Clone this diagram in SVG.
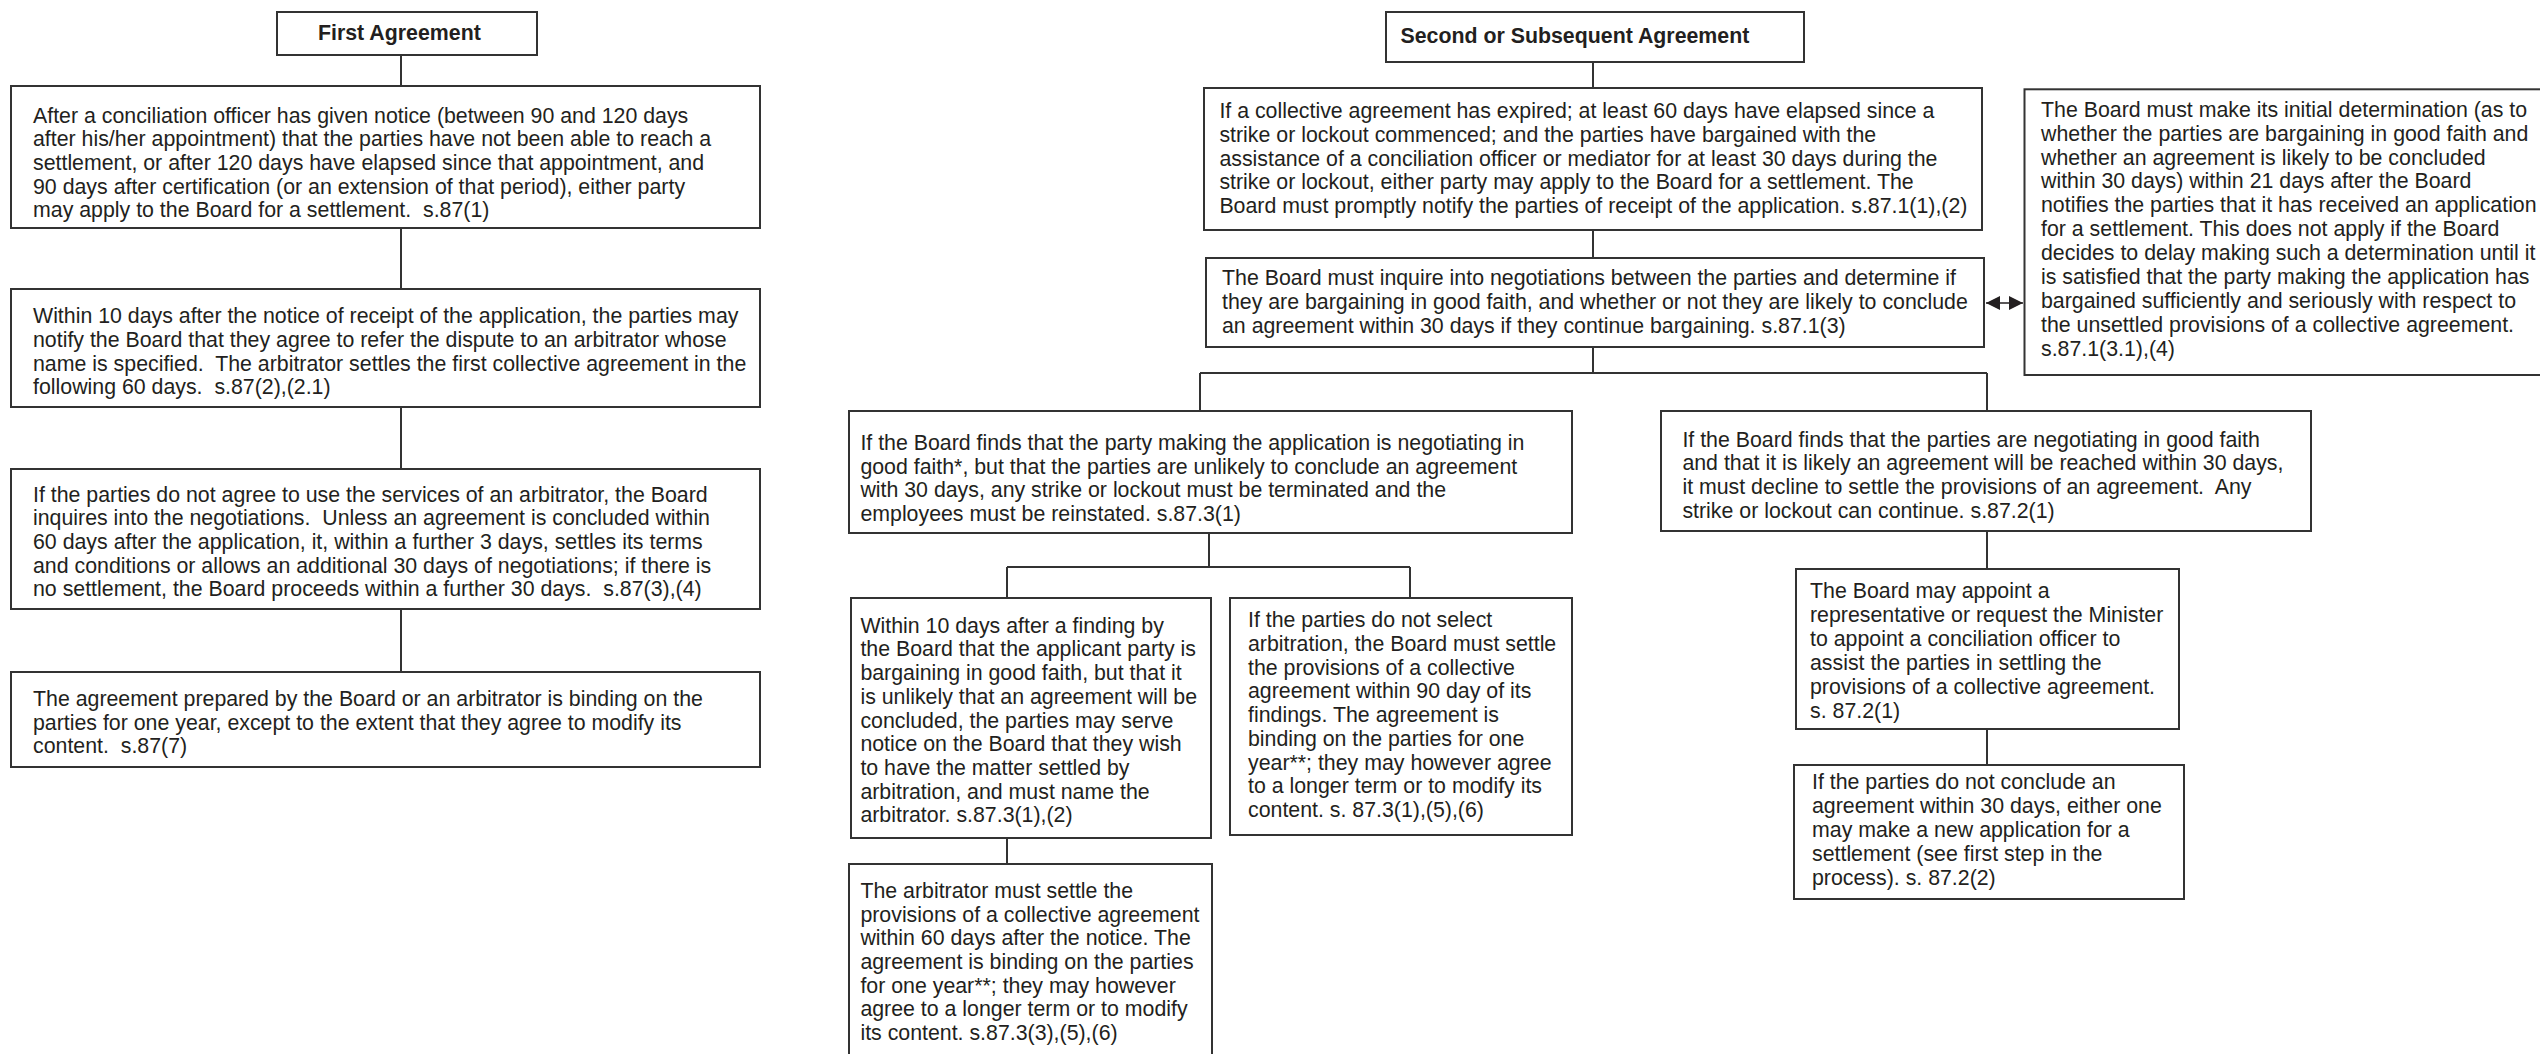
<svg xmlns="http://www.w3.org/2000/svg" width="2540" height="1054" viewBox="0 0 2540 1054">
<defs>
<style>
.box{fill:#fff;stroke:#333;stroke-width:2}
.ln{fill:none;stroke:#333;stroke-width:2}
.arr{fill:none;stroke:#231f20;stroke-width:1.5}
text{font-family:"Liberation Sans",Arial,sans-serif;font-size:21.33px;fill:#231f20;white-space:pre}
.b{font-weight:bold}
</style>
<marker id="ah" viewBox="0 0 10 10" refX="10" refY="5" markerWidth="15" markerHeight="14" markerUnits="userSpaceOnUse" orient="auto-start-reverse">
<path d="M0,0 L10,5 L0,10 z" fill="#231f20"/>
</marker>
</defs>
<rect width="2540" height="1054" fill="#fff"/>

<g id="connectors">
<path class="ln" d="M401,55 V86 M401,228 V289 M401,407 V469 M401,609 V672"/>
<path class="ln" d="M1593,62 V88 M1593,230 V258 M1593,347 V373 M1200,373 H1987 M1200,373 V411 M1987,373 V411"/>
<path class="ln" d="M1209,533 V567 M1007,567 H1410 M1007,567 V598 M1410,567 V598 M1007,838 V864"/>
<path class="ln" d="M1987,531 V569 M1987,729 V765"/>
<path class="arr" d="M1986,303 H2023" marker-start="url(#ah)" marker-end="url(#ah)"/>
</g>

<g id="first-agreement">
<rect class="box" x="277" y="12" width="260" height="43"/>
<text class="b" x="318" y="40">First Agreement</text>
</g>

<g id="a1">
<rect class="box" x="11" y="86" width="749" height="142"/>
<text><tspan x="33" y="122.7">After a conciliation officer has given notice (between 90 and 120 days</tspan><tspan x="33" y="146.3">after his/her appointment) that the parties have not been able to reach a</tspan><tspan x="33" y="169.9">settlement, or after 120 days have elapsed since that appointment, and</tspan><tspan x="33" y="193.5">90 days after certification (or an extension of that period), either party</tspan><tspan x="33" y="217.1">may apply to the Board for a settlement.  s.87(1)</tspan></text>
</g>

<g id="a2">
<rect class="box" x="11" y="289" width="749" height="118"/>
<text><tspan x="33" y="323.3">Within 10 days after the notice of receipt of the application, the parties may</tspan><tspan x="33" y="346.9">notify the Board that they agree to refer the dispute to an arbitrator whose</tspan><tspan x="33" y="370.5">name is specified.  The arbitrator settles the first collective agreement in the</tspan><tspan x="33" y="394.1">following 60 days.  s.87(2),(2.1)</tspan></text>
</g>

<g id="a3">
<rect class="box" x="11" y="469" width="749" height="140"/>
<text><tspan x="33" y="501.7">If the parties do not agree to use the services of an arbitrator, the Board</tspan><tspan x="33" y="525.3">inquires into the negotiations.  Unless an agreement is concluded within</tspan><tspan x="33" y="548.9">60 days after the application, it, within a further 3 days, settles its terms</tspan><tspan x="33" y="572.5">and conditions or allows an additional 30 days of negotiations; if there is</tspan><tspan x="33" y="596.1">no settlement, the Board proceeds within a further 30 days.  s.87(3),(4)</tspan></text>
</g>

<g id="a4">
<rect class="box" x="11" y="672" width="749" height="95"/>
<text><tspan x="33" y="706">The agreement prepared by the Board or an arbitrator is binding on the</tspan><tspan x="33" y="729.6">parties for one year, except to the extent that they agree to modify its</tspan><tspan x="33" y="753.2">content.  s.87(7)</tspan></text>
</g>

<g id="second-agreement">
<rect class="box" x="1386" y="12" width="418" height="50"/>
<text class="b" x="1400.5" y="43">Second or Subsequent Agreement</text>
</g>

<g id="b1">
<rect class="box" x="1204" y="88" width="778" height="142"/>
<text><tspan x="1219.4" y="118.3">If a collective agreement has expired; at least 60 days have elapsed since a</tspan><tspan x="1219.4" y="142">strike or lockout commenced; and the parties have bargained with the</tspan><tspan x="1219.4" y="165.7">assistance of a conciliation officer or mediator for at least 30 days during the</tspan><tspan x="1219.4" y="189.4">strike or lockout, either party may apply to the Board for a settlement. The</tspan><tspan x="1219.4" y="213.1">Board must promptly notify the parties of receipt of the application. s.87.1(1),(2)</tspan></text>
</g>

<g id="b2">
<rect class="box" x="1206" y="258" width="778" height="89"/>
<text><tspan x="1222" y="285">The Board must inquire into negotiations between the parties and determine if</tspan><tspan x="1222" y="309">they are bargaining in good faith, and whether or not they are likely to conclude</tspan><tspan x="1222" y="333">an agreement within 30 days if they continue bargaining. s.87.1(3)</tspan></text>
</g>

<g id="side-note">
<rect class="box" x="2024.5" y="89.3" width="530" height="285.7"/>
<text><tspan x="2041" y="116.7">The Board must make its initial determination (as to</tspan><tspan x="2041" y="140.6">whether the parties are bargaining in good faith and</tspan><tspan x="2041" y="164.5">whether an agreement is likely to be concluded</tspan><tspan x="2041" y="188.4">within 30 days) within 21 days after the Board</tspan><tspan x="2041" y="212.3">notifies the parties that it has received an application</tspan><tspan x="2041" y="236.2">for a settlement. This does not apply if the Board</tspan><tspan x="2041" y="260.1">decides to delay making such a determination until it</tspan><tspan x="2041" y="284">is satisfied that the party making the application has</tspan><tspan x="2041" y="307.9">bargained sufficiently and seriously with respect to</tspan><tspan x="2041" y="331.8">the unsettled provisions of a collective agreement.</tspan><tspan x="2041" y="355.7">s.87.1(3.1),(4)</tspan></text>
</g>

<g id="c1">
<rect class="box" x="849" y="411" width="723" height="122"/>
<text><tspan x="860.4" y="450">If the Board finds that the party making the application is negotiating in</tspan><tspan x="860.4" y="473.6">good faith*, but that the parties are unlikely to conclude an agreement</tspan><tspan x="860.4" y="497.2">with 30 days, any strike or lockout must be terminated and the</tspan><tspan x="860.4" y="520.8">employees must be reinstated. s.87.3(1)</tspan></text>
</g>

<g id="c2">
<rect class="box" x="851" y="598" width="360" height="240"/>
<text><tspan x="860.4" y="632.7">Within 10 days after a finding by</tspan><tspan x="860.4" y="656.4">the Board that the applicant party is</tspan><tspan x="860.4" y="680.1">bargaining in good faith, but that it</tspan><tspan x="860.4" y="703.8">is unlikely that an agreement will be</tspan><tspan x="860.4" y="727.5">concluded, the parties may serve</tspan><tspan x="860.4" y="751.2">notice on the Board that they wish</tspan><tspan x="860.4" y="774.9">to have the matter settled by</tspan><tspan x="860.4" y="798.6">arbitration, and must name the</tspan><tspan x="860.4" y="822.3">arbitrator. s.87.3(1),(2)</tspan></text>
</g>

<g id="c3">
<rect class="box" x="1230" y="598" width="342" height="237"/>
<text><tspan x="1248" y="627.3">If the parties do not select</tspan><tspan x="1248" y="651">arbitration, the Board must settle</tspan><tspan x="1248" y="674.7">the provisions of a collective</tspan><tspan x="1248" y="698.4">agreement within 90 day of its</tspan><tspan x="1248" y="722.1">findings. The agreement is</tspan><tspan x="1248" y="745.8">binding on the parties for one</tspan><tspan x="1248" y="769.5">year**; they may however agree</tspan><tspan x="1248" y="793.2">to a longer term or to modify its</tspan><tspan x="1248" y="816.9">content. s. 87.3(1),(5),(6)</tspan></text>
</g>

<g id="c4">
<rect class="box" x="849" y="864" width="363" height="200"/>
<text><tspan x="860.4" y="897.8">The arbitrator must settle the</tspan><tspan x="860.4" y="921.5">provisions of a collective agreement</tspan><tspan x="860.4" y="945.2">within 60 days after the notice. The</tspan><tspan x="860.4" y="968.9">agreement is binding on the parties</tspan><tspan x="860.4" y="992.6">for one year**; they may however</tspan><tspan x="860.4" y="1016.3">agree to a longer term or to modify</tspan><tspan x="860.4" y="1040">its content. s.87.3(3),(5),(6)</tspan></text>
</g>

<g id="d1">
<rect class="box" x="1661" y="411" width="650" height="120"/>
<text><tspan x="1682.4" y="446.7">If the Board finds that the parties are negotiating in good faith</tspan><tspan x="1682.4" y="470.3">and that it is likely an agreement will be reached within 30 days,</tspan><tspan x="1682.4" y="493.9">it must decline to settle the provisions of an agreement.  Any</tspan><tspan x="1682.4" y="517.5">strike or lockout can continue. s.87.2(1)</tspan></text>
</g>

<g id="d2">
<rect class="box" x="1796" y="569" width="383" height="160"/>
<text><tspan x="1810" y="598.3">The Board may appoint a</tspan><tspan x="1810" y="622.3">representative or request the Minister</tspan><tspan x="1810" y="646.3">to appoint a conciliation officer to</tspan><tspan x="1810" y="670.3">assist the parties in settling the</tspan><tspan x="1810" y="694.3">provisions of a collective agreement.</tspan><tspan x="1810" y="718.3">s. 87.2(1)</tspan></text>
</g>

<g id="d3">
<rect class="box" x="1794" y="765" width="390" height="134"/>
<text><tspan x="1812" y="789.3">If the parties do not conclude an</tspan><tspan x="1812" y="813.3">agreement within 30 days, either one</tspan><tspan x="1812" y="837.3">may make a new application for a</tspan><tspan x="1812" y="861.3">settlement (see first step in the</tspan><tspan x="1812" y="885.3">process). s. 87.2(2)</tspan></text>
</g>
</svg>
